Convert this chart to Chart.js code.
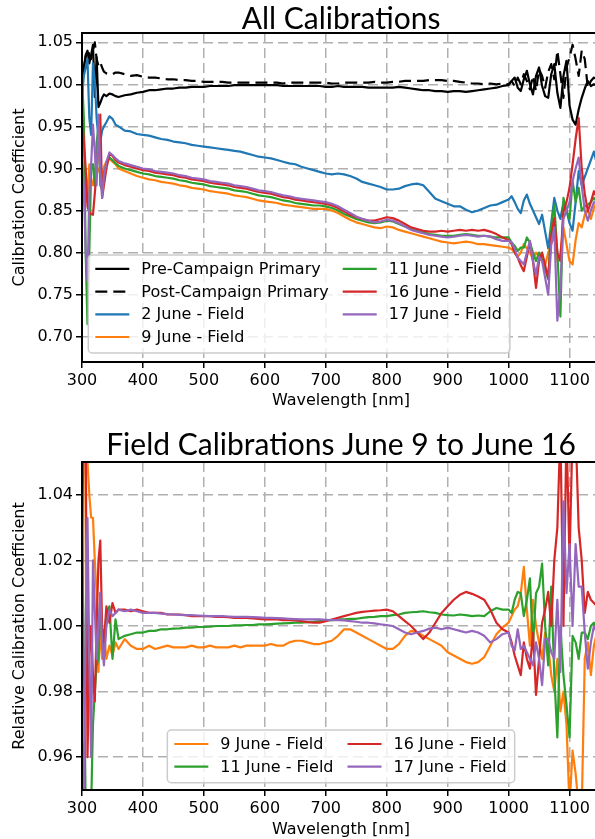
<!DOCTYPE html>
<html>
<head>
<meta charset="utf-8">
<script src="https://cdn.jsdelivr.net/npm/chart.js@4.4.1/dist/chart.umd.min.js"></script>
<style>
  html, body { margin: 0; padding: 0; background: #fff; width: 595px; height: 839px; overflow: hidden; }
  #wrap { position: relative; width: 595px; height: 839px; overflow: hidden; }
  canvas { position: absolute; left: 0; }
  #topChart { top: 0; }
  #bottomChart { top: 420px; }
</style>
</head>
<body>
<div id="wrap">
  <canvas id="topChart" width="610" height="420"></canvas>
  <canvas id="bottomChart" width="610" height="419"></canvas>
</div>
<script>
// wavelength grid [nm], finer where the spectra get noisy
const wavelength = [
  300,303,306,309,312,315,318,321,324,327,330,333,336,340,345,350,355,
  360,370,380,390,400,410,420,430,440,450,
  460,470,480,490,500,510,520,530,540,550,
  560,570,580,590,600,610,620,630,640,650,
  660,670,680,690,700,710,720,730,740,750,
  760,770,780,790,800,810,820,830,840,850,
  860,870,880,890,900,910,920,930,940,950,
  960,970,980,990,
  1000,1005,1010,1015,1020,1025,1030,1035,1040,1045,
  1050,1055,1060,1065,1070,1075,1080,1085,1090,1095,
  1100,1105,1110,1115,1120,1125,1130,1135,1140,1145
];

const xTickValues = [300,400,500,600,700,800,900,1000,1100];
const topTickValues = [0.70,0.75,0.80,0.85,0.90,0.95,1.00,1.05];
const bottomTickValues = [0.96,0.98,1.00,1.02,1.04];

const topLabels = ['Pre-Campaign Primary','Post-Campaign Primary','2 June - Field','9 June - Field',
                   '11 June - Field','16 June - Field','17 June - Field'];
const bottomLabels = ['9 June - Field','11 June - Field','16 June - Field','17 June - Field'];

// calibration coefficients
const preCampaign = [
  1.000,1.018,1.035,1.040,1.025,1.035,1.047,0.985,1.032,0.973,0.978,0.984,0.988,0.986,0.989,0.988,0.986,
  0.985,0.987,0.988,0.990,0.991,0.993,0.993,0.994,0.995,0.995,
  0.996,0.996,0.997,0.997,0.997,0.998,0.998,0.998,0.998,0.999,
  0.999,0.999,0.999,0.999,0.999,0.999,0.999,0.998,0.998,0.998,
  0.998,0.998,0.998,0.998,0.997,0.997,0.998,0.997,0.997,0.997,
  0.997,0.996,0.996,0.996,0.996,0.996,0.997,0.996,0.995,0.994,
  0.993,0.993,0.992,0.992,0.991,0.992,0.992,0.991,0.992,0.993,
  0.994,0.995,0.996,0.998,
  0.999,1.004,1.008,0.996,0.992,1.006,1.016,1.000,0.988,1.010,
  1.020,0.998,0.986,0.984,1.012,1.024,0.990,0.972,1.010,1.028,
  0.975,0.958,0.952,0.970,0.984,0.995,1.004,0.998,1.000,0.999
];
const postCampaign = [
  1.000,1.020,1.032,1.040,1.036,1.030,1.040,1.050,1.030,1.022,1.026,1.020,1.015,1.013,1.012,1.012,1.014,
  1.014,1.012,1.010,1.011,1.009,1.008,1.008,1.007,1.006,1.006,
  1.005,1.005,1.004,1.004,1.003,1.003,1.003,1.003,1.002,1.002,
  1.002,1.002,1.002,1.002,1.002,1.002,1.002,1.001,1.002,1.002,
  1.002,1.002,1.002,1.002,1.002,1.001,1.001,1.002,1.002,1.002,
  1.002,1.002,1.003,1.002,1.002,1.003,1.003,1.004,1.004,1.004,
  1.004,1.005,1.005,1.005,1.004,1.004,1.003,1.002,1.001,1.001,
  1.000,1.001,1.000,1.001,
  1.000,1.004,0.998,1.008,1.000,1.012,1.004,0.994,1.010,0.992,
  1.018,1.010,0.996,1.015,1.024,1.006,1.040,1.012,0.984,1.020,
  1.032,1.047,1.030,1.010,1.040,1.030,0.996,1.004,1.008,1.006
];
const june2 = [
  0.985,1.010,1.020,1.030,0.960,0.940,1.025,1.005,0.960,0.935,0.932,0.945,0.950,0.955,0.962,0.959,0.952,
  0.950,0.945,0.944,0.941,0.940,0.939,0.937,0.935,0.934,0.932,
  0.931,0.930,0.928,0.927,0.926,0.925,0.924,0.923,0.922,0.921,
  0.920,0.918,0.916,0.914,0.913,0.912,0.910,0.908,0.906,0.905,
  0.902,0.900,0.898,0.896,0.894,0.893,0.894,0.893,0.891,0.888,
  0.884,0.882,0.880,0.878,0.875,0.875,0.876,0.879,0.881,0.882,
  0.880,0.872,0.864,0.861,0.858,0.855,0.855,0.851,0.848,0.850,
  0.853,0.856,0.857,0.860,
  0.863,0.867,0.860,0.852,0.847,0.862,0.869,0.858,0.850,0.842,
  0.834,0.845,0.825,0.805,0.835,0.865,0.850,0.840,0.860,0.850,
  0.835,0.826,0.860,0.897,0.880,0.890,0.900,0.910,0.920,0.905
];
const june9 = [
  0.850,0.870,0.900,0.860,0.905,0.888,0.880,0.890,0.895,0.900,0.893,0.890,0.902,0.908,0.912,0.908,0.905,
  0.900,0.897,0.894,0.891,0.889,0.887,0.886,0.884,0.883,0.882,
  0.880,0.879,0.877,0.876,0.875,0.873,0.872,0.871,0.870,0.868,
  0.867,0.866,0.864,0.862,0.861,0.860,0.859,0.857,0.856,0.855,
  0.854,0.853,0.852,0.852,0.852,0.850,0.847,0.843,0.839,0.836,
  0.834,0.832,0.830,0.829,0.831,0.830,0.827,0.825,0.823,0.821,
  0.819,0.817,0.815,0.813,0.812,0.811,0.812,0.813,0.812,0.810,
  0.810,0.809,0.808,0.807,
  0.806,0.804,0.800,0.795,0.800,0.810,0.805,0.800,0.792,0.800,
  0.795,0.790,0.785,0.800,0.810,0.820,0.790,0.800,0.830,0.810,
  0.790,0.786,0.815,0.835,0.830,0.845,0.850,0.840,0.853,0.860
];
const june11 = [
  1.010,0.960,0.800,0.715,0.800,0.900,0.905,0.880,0.930,0.950,0.880,0.875,0.895,0.905,0.913,0.910,0.906,
  0.903,0.900,0.898,0.896,0.894,0.893,0.891,0.890,0.889,0.888,
  0.886,0.885,0.883,0.882,0.881,0.879,0.878,0.877,0.876,0.874,
  0.873,0.872,0.870,0.868,0.867,0.866,0.864,0.862,0.861,0.859,
  0.858,0.857,0.856,0.856,0.855,0.853,0.850,0.846,0.843,0.840,
  0.838,0.836,0.835,0.836,0.838,0.837,0.834,0.831,0.828,0.826,
  0.824,0.822,0.821,0.820,0.820,0.820,0.821,0.822,0.821,0.820,
  0.820,0.819,0.818,0.818,
  0.818,0.812,0.808,0.802,0.806,0.806,0.818,0.812,0.800,0.790,
  0.800,0.792,0.780,0.768,0.830,0.857,0.800,0.724,0.865,0.850,
  0.840,0.885,0.860,0.877,0.850,0.855,0.857,0.860,0.865,0.860
];
const june16 = [
  0.960,0.935,0.900,0.855,0.848,0.846,0.845,0.870,0.897,0.930,0.964,0.865,0.880,0.900,0.917,0.915,0.910,
  0.907,0.904,0.902,0.900,0.898,0.897,0.895,0.894,0.893,0.892,
  0.890,0.889,0.887,0.886,0.885,0.883,0.882,0.881,0.880,0.878,
  0.877,0.876,0.874,0.872,0.871,0.870,0.868,0.866,0.865,0.863,
  0.862,0.861,0.860,0.859,0.858,0.856,0.853,0.849,0.845,0.842,
  0.840,0.838,0.838,0.840,0.842,0.841,0.838,0.834,0.830,0.828,
  0.826,0.825,0.825,0.826,0.825,0.826,0.827,0.826,0.827,0.826,
  0.827,0.825,0.822,0.818,
  0.815,0.810,0.800,0.794,0.785,0.778,0.795,0.812,0.790,0.758,
  0.790,0.800,0.785,0.770,0.820,0.841,0.800,0.790,0.849,0.860,
  0.877,0.905,0.935,0.960,0.900,0.870,0.849,0.860,0.873,0.865
];
const june17 = [
  0.910,0.880,0.800,0.766,0.870,0.905,0.952,0.920,0.880,0.964,0.900,0.865,0.890,0.908,0.919,0.916,0.912,
  0.909,0.906,0.904,0.902,0.900,0.899,0.897,0.896,0.895,0.894,
  0.892,0.891,0.889,0.888,0.887,0.885,0.884,0.883,0.882,0.880,
  0.879,0.878,0.876,0.874,0.873,0.872,0.870,0.868,0.867,0.865,
  0.864,0.863,0.862,0.861,0.860,0.858,0.855,0.851,0.847,0.843,
  0.840,0.838,0.836,0.837,0.839,0.838,0.835,0.831,0.827,0.825,
  0.823,0.821,0.820,0.819,0.818,0.819,0.820,0.821,0.820,0.819,
  0.820,0.819,0.816,0.814,
  0.814,0.812,0.805,0.794,0.790,0.786,0.800,0.814,0.790,0.774,
  0.795,0.790,0.770,0.750,0.810,0.830,0.719,0.760,0.840,0.850,
  0.860,0.885,0.900,0.913,0.880,0.850,0.838,0.850,0.860,0.858
];

// relative calibration coefficients
const rel9 = [
  0.945,1.060,1.060,1.050,1.040,1.033,1.033,1.020,1.010,0.986,1.000,0.990,0.998,0.990,0.994,0.991,0.995,
  0.993,0.996,0.994,0.993,0.993,0.994,0.993,0.9935,0.994,0.9935,
  0.9935,0.9935,0.994,0.9935,0.9935,0.994,0.9935,0.9935,0.9935,0.994,
  0.9935,0.994,0.994,0.994,0.994,0.9945,0.994,0.994,0.995,0.9955,
  0.9955,0.995,0.9945,0.9945,0.995,0.9955,0.997,0.999,0.999,0.998,
  0.997,0.996,0.995,0.994,0.993,0.993,0.9945,0.997,0.9985,0.998,
  0.997,0.996,0.995,0.994,0.992,0.991,0.990,0.989,0.9885,0.989,
  0.9905,0.994,0.9975,0.9995,
  1.001,1.003,1.005,1.006,1.010,1.018,1.005,0.994,1.008,1.000,
  0.995,0.990,0.998,0.994,0.985,0.980,0.990,0.974,0.980,0.970,
  0.945,0.962,0.955,0.945,0.944,0.990,0.995,0.985,0.994,0.998
];
const rel11 = [
  1.030,0.990,0.945,0.940,0.940,0.945,0.970,0.980,0.988,0.990,1.010,0.995,0.990,1.004,1.006,0.990,1.002,
  0.996,0.997,0.9975,0.998,0.998,0.9985,0.9985,0.999,0.999,0.9992,
  0.9993,0.9995,0.9995,0.9997,0.9997,0.9998,1.000,1.000,1.000,1.0002,
  1.0002,1.0003,1.0003,1.0005,1.0005,1.0006,1.0007,1.0008,1.0009,1.001,
  1.001,1.0012,1.0013,1.0015,1.0017,1.0018,1.002,1.002,1.0022,1.0022,
  1.0025,1.0027,1.0028,1.003,1.003,1.0033,1.0035,1.004,1.0042,1.0043,
  1.0045,1.0042,1.004,1.0035,1.0033,1.0032,1.0035,1.0033,1.003,1.0032,
  1.003,1.0045,1.0055,1.005,
  1.005,1.004,1.008,1.0104,1.010,1.003,1.008,1.0145,0.994,1.010,
  1.012,1.019,1.000,0.988,1.012,0.985,0.966,1.000,0.985,0.976,
  0.966,0.997,0.995,0.990,0.998,0.998,0.996,1.000,1.001,0.998
];
const rel16 = [
  1.030,1.060,1.060,0.960,0.990,1.000,0.985,0.977,1.000,1.020,1.026,1.000,0.995,1.006,1.001,1.007,1.004,
  1.005,1.005,1.0045,1.005,1.0045,1.004,1.004,1.004,1.0035,1.0035,
  1.0035,1.0033,1.003,1.003,1.003,1.003,1.0028,1.0028,1.0027,1.0025,
  1.0025,1.0025,1.0023,1.0022,1.002,1.002,1.002,1.0018,1.0018,1.0017,
  1.0015,1.0012,1.001,1.001,1.0015,1.002,1.0025,1.003,1.0035,1.004,
  1.0043,1.0045,1.0047,1.0048,1.005,1.0045,1.003,1.0015,1.000,0.998,
  0.996,0.998,1.001,1.004,1.006,1.008,1.0095,1.0104,1.0098,1.009,
  1.008,1.005,1.001,0.999,
  0.998,0.995,0.991,0.988,0.985,0.995,0.990,0.987,0.998,0.979,
  0.990,1.001,1.005,1.0104,1.000,1.020,1.030,1.060,1.000,1.060,
  1.020,1.060,1.060,1.030,1.020,1.004,1.0104,1.008,1.007,1.006
];
const rel17 = [
  0.965,0.950,1.000,1.033,0.990,0.960,1.020,1.005,0.990,1.000,1.010,0.995,0.988,1.000,1.005,1.003,1.004,
  1.005,1.0045,1.005,1.0045,1.004,1.004,1.004,1.0038,1.0036,1.0035,
  1.0034,1.0033,1.0033,1.0032,1.0031,1.003,1.003,1.003,1.0029,1.0028,
  1.0028,1.0028,1.0027,1.0026,1.0025,1.0025,1.0024,1.0023,1.0022,1.0021,
  1.002,1.002,1.002,1.002,1.0019,1.0018,1.0018,1.0017,1.0015,1.0013,
  1.001,1.001,1.0008,1.0005,1.0003,1.000,0.999,0.998,0.9975,0.998,
  0.9985,0.9992,0.9995,0.999,0.9995,0.999,0.9985,0.998,0.9985,0.998,
  0.997,0.995,0.996,0.9975,
  0.998,0.994,0.9925,0.999,0.993,0.994,0.992,0.990,0.988,0.995,
  0.990,0.982,0.996,0.996,0.992,0.990,1.008,0.986,1.038,1.010,
  1.025,1.000,1.025,1.012,1.012,0.998,0.987,0.995,1.000,0.998
];

const BLACK = '#000000', BLUE = '#1f77b4', ORANGE = '#ff7f0e',
      GREEN = '#2ca02c', RED = '#d62728', PURPLE = '#9467bd';
const TICK_FONT = {family: 'DejaVu Sans', size: 16};

function makeSet(label, values, color, dash) {
  return {
    label: label,
    data: values.map((v, i) => ({x: wavelength[i], y: v})),
    borderColor: color,
    backgroundColor: color,
    borderWidth: 2.2,
    borderDash: dash || [],
    borderJoinStyle: 'round',
    pointRadius: 0,
    tension: 0,
    fill: false
  };
}

// later series on top, like the plotting order
function stack(sets) {
  sets.forEach((s, i) => { s.order = sets.length - i; });
  return sets;
}

function roundRect(ctx, x, y, w, h, r) {
  ctx.beginPath();
  ctx.moveTo(x + r, y);
  ctx.lineTo(x + w - r, y);
  ctx.arcTo(x + w, y, x + w, y + r, r);
  ctx.lineTo(x + w, y + h - r);
  ctx.arcTo(x + w, y + h, x + w - r, y + h, r);
  ctx.lineTo(x + r, y + h);
  ctx.arcTo(x, y + h, x, y + h - r, r);
  ctx.lineTo(x, y + r);
  ctx.arcTo(x, y, x + r, y, r);
  ctx.closePath();
}

function drawLegend(chart, opts) {
  const ctx = chart.ctx, a = chart.chartArea;
  const sets = chart.data.datasets;
  const handle = 34, gap = 12, colGap = 14, rowH = 22.7;
  const padL = 7, padR = 8, padT = 14, padB = 16;
  ctx.save();
  ctx.font = '16px "DejaVu Sans"';
  const colW = opts.columns.map(col => Math.max(...col.map(i => ctx.measureText(sets[i].label).width)));
  const rows = Math.max(...opts.columns.map(c => c.length));
  let w = padL + padR + colGap * (opts.columns.length - 1);
  colW.forEach(cw => { w += handle + gap + cw; });
  const h = padT + (rows - 1) * rowH + padB;
  let x0, y0;
  if (opts.anchor === 'lowerCenter') {
    x0 = (a.left + a.right) / 2 - w / 2;
    y0 = a.bottom - 7.3 - h;
  } else {
    x0 = a.left + 6.3;
    y0 = a.bottom - 9 - h;
  }
  roundRect(ctx, x0, y0, w, h, 4);
  ctx.fillStyle = 'rgba(255,255,255,0.8)';
  ctx.fill();
  ctx.strokeStyle = '#cccccc';
  ctx.lineWidth = 1.5;
  ctx.stroke();

  let cx = x0 + padL;
  opts.columns.forEach((col, c) => {
    col.forEach((idx, r) => {
      const ds = sets[idx];
      const y = y0 + padT + r * rowH;
      ctx.beginPath();
      ctx.setLineDash(ds.borderDash || []);
      ctx.strokeStyle = ds.borderColor;
      ctx.lineWidth = ds.borderWidth;
      ctx.moveTo(cx, y);
      ctx.lineTo(cx + handle, y);
      ctx.stroke();
      ctx.setLineDash([]);
      ctx.fillStyle = '#000';
      ctx.textBaseline = 'middle';
      ctx.textAlign = 'left';
      ctx.fillText(ds.label, cx + handle + gap, y + 1);
    });
    cx += handle + gap + colW[c] + colGap;
  });
  ctx.restore();
}

const framePlugin = {
  id: 'frameAndLegend',
  afterDatasetsDraw(chart, args, opts) {
    const ctx = chart.ctx, a = chart.chartArea;
    ctx.save();
    ctx.strokeStyle = '#000';
    ctx.lineWidth = 2;
    ctx.strokeRect(a.left, a.top, a.right - a.left, a.bottom - a.top);
    ctx.restore();
    drawLegend(chart, opts);
  },
  afterDraw(chart, args, opts) {
    const ctx = chart.ctx, a = chart.chartArea;
    ctx.save();
    ctx.font = '30px Lato';
    ctx.fillStyle = '#000';
    ctx.textAlign = 'center';
    ctx.textBaseline = 'alphabetic';
    ctx.fillText(opts.title, (a.left + a.right) / 2, opts.titleY);
    ctx.restore();
  }
};

function makeOptions(cfg) {
  return {
    responsive: false,
    animation: false,
    devicePixelRatio: 1,
    layout: {padding: {top: cfg.padTop, right: 10, left: 0, bottom: 0}},
    plugins: {
      legend: {display: false},
      tooltip: {enabled: false},
      frameAndLegend: {title: cfg.title, titleY: cfg.titleY, columns: cfg.columns, anchor: cfg.anchor}
    },
    scales: {
      x: {
        type: 'linear',
        min: 300,
        max: 1150,
        afterBuildTicks: s => { s.ticks = xTickValues.map(v => ({value: v})); },
        afterFit: s => { s.height = cfg.xHeight; },
        ticks: {font: TICK_FONT, color: '#000', padding: 3, maxRotation: 0, callback: v => String(v)},
        grid: {color: '#b0b0b0', lineWidth: 1.5, tickColor: '#000', tickWidth: 1.5, tickLength: 6},
        border: {display: true, color: '#000', width: 2, dash: [10, 5]},
        title: {display: true, text: 'Wavelength [nm]', font: TICK_FONT, color: '#000',
                padding: {top: 0, bottom: cfg.xTitlePad}}
      },
      y: {
        type: 'linear',
        min: cfg.yMin,
        max: cfg.yMax,
        afterBuildTicks: s => { s.ticks = cfg.yTicks.map(v => ({value: v})); },
        afterFit: s => { s.width = 82; },
        ticks: {font: TICK_FONT, color: '#000', padding: 3, callback: v => v.toFixed(2)},
        grid: {color: '#b0b0b0', lineWidth: 1.5, tickColor: '#000', tickWidth: 1.5, tickLength: 6},
        border: {display: true, color: '#000', width: 2, dash: [10, 5]},
        title: {display: true, text: cfg.yTitle, font: TICK_FONT, color: '#000',
                padding: {top: 10, bottom: 0}}
      }
    }
  };
}

new Chart(document.getElementById('topChart'), {
  type: 'line',
  data: {
    datasets: stack([
      makeSet(topLabels[0], preCampaign, BLACK),
      makeSet(topLabels[1], postCampaign, BLACK, [12, 6]),
      makeSet(topLabels[2], june2, BLUE),
      makeSet(topLabels[3], june9, ORANGE),
      makeSet(topLabels[4], june11, GREEN),
      makeSet(topLabels[5], june16, RED),
      makeSet(topLabels[6], june17, PURPLE)
    ])
  },
  options: makeOptions({
    title: 'All Calibrations', titleY: 28.5, padTop: 33, xHeight: 58, xTitlePad: 10,
    yMin: 0.67, yMax: 1.061, yTicks: topTickValues, yTitle: 'Calibration Coefficient',
    columns: [[0, 1, 2, 3], [4, 5, 6]], anchor: 'lowerLeft'
  }),
  plugins: [framePlugin]
});

new Chart(document.getElementById('bottomChart'), {
  type: 'line',
  data: {
    datasets: stack([
      makeSet(bottomLabels[0], rel9, ORANGE),
      makeSet(bottomLabels[1], rel11, GREEN),
      makeSet(bottomLabels[2], rel16, RED),
      makeSet(bottomLabels[3], rel17, PURPLE)
    ])
  },
  options: makeOptions({
    title: 'Field Calibrations June 9 to June 16', titleY: 35, padTop: 42, xHeight: 49, xTitlePad: 0,
    yMin: 0.95, yMax: 1.05, yTicks: bottomTickValues, yTitle: 'Relative Calibration Coefficient',
    columns: [[0, 1], [2, 3]], anchor: 'lowerCenter'
  }),
  plugins: [framePlugin]
});
</script>
</body>
</html>
